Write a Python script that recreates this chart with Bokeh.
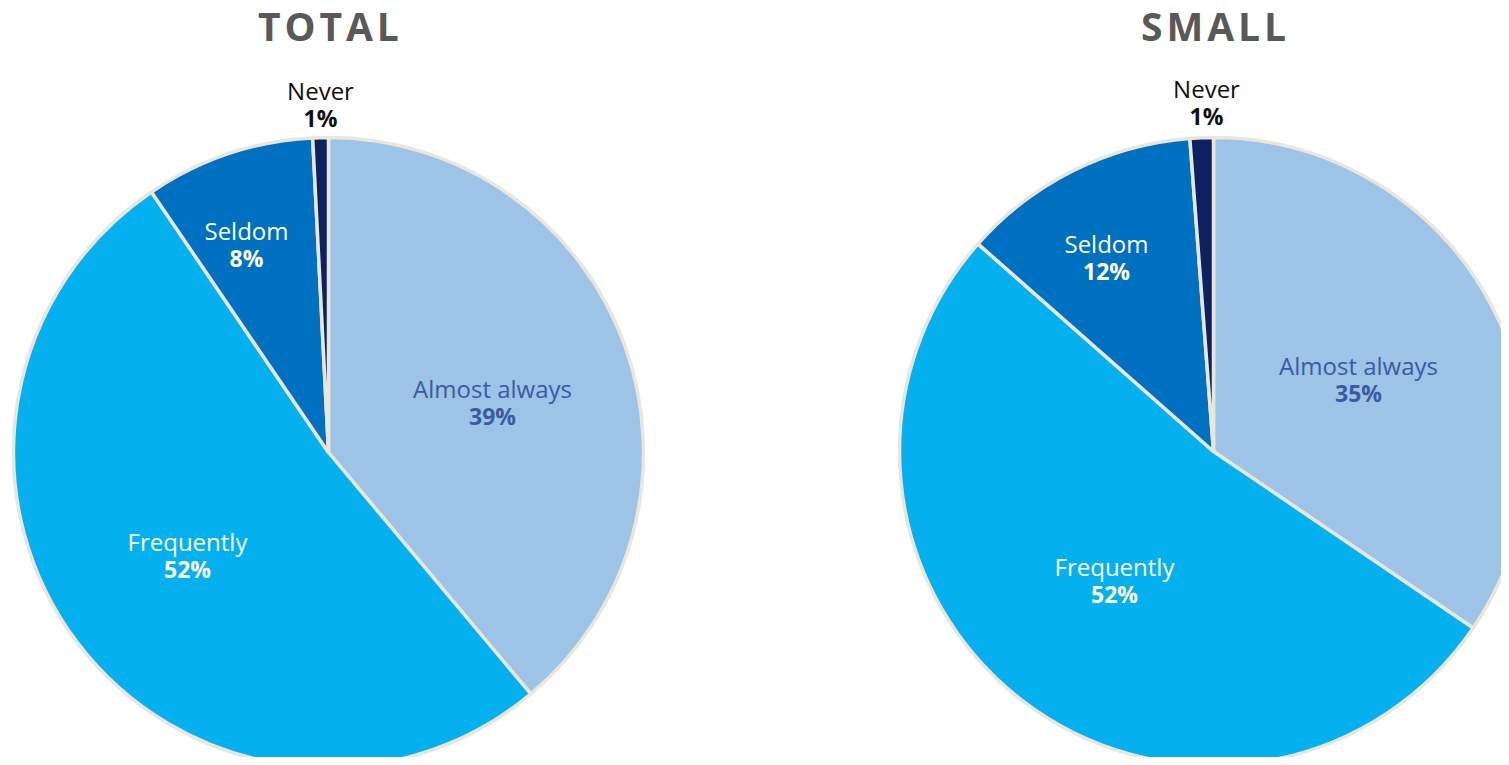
import math
from bokeh.plotting import figure
from bokeh.models import Range1d, ColumnDataSource
from bokeh.core.properties import value
from bokeh.embed import file_html
from bokeh.resources import INLINE

categories = ["Almost always", "Frequently", "Seldom", "Never"]
colors = ["#9DC3E6", "#05B0EF", "#0070C0", "#0D2160"]

total_values = [38.9, 51.6, 8.7, 0.8]
total_labels = ["39%", "52%", "8%", "1%"]
small_values = [34.5, 52.0, 12.3, 1.2]
small_labels = ["35%", "52%", "12%", "1%"]

W, H = 1501, 757
p = figure(width=W, height=H, output_backend="svg", toolbar_location=None,
           x_range=Range1d(0, W), y_range=Range1d(765 - H, 765),
           min_border=0)
p.axis.visible = False
p.grid.visible = False
p.outline_line_color = None
p.background_fill_color = "white"

BORDER = "#EAE6DC"
FONT = "Open Sans"


def iy(y):
    return 765 - y


def draw_pie(cx, cy, r, vals, labs, label_pos, title, title_pos):
    tot = sum(vals)
    starts, ends = [], []
    acc = 0.0
    for v in vals:
        a0 = math.pi / 2 - 2 * math.pi * acc / tot
        acc += v
        a1 = math.pi / 2 - 2 * math.pi * acc / tot
        starts.append(a1)
        ends.append(a0)
    src = ColumnDataSource(dict(x=[cx] * len(vals), y=[iy(cy)] * len(vals),
                                start=starts, end=ends, color=colors))
    p.wedge(x="x", y="y", radius=r, start_angle="start", end_angle="end",
            fill_color="color", line_color=BORDER, line_width=3.5, source=src)
    name_colors = ["#3B5BA0", "white", "white", "#111111"]
    for i, (name, lab) in enumerate(zip(categories, labs)):
        lx, ly = label_pos[i]
        p.text(x=[lx], y=[iy(ly)], text=[name], text_align="center",
               text_baseline="middle", text_font=value(FONT),
               text_font_size="24px", text_color=name_colors[i])
        p.text(x=[lx], y=[iy(ly + 27)], text=[lab], text_align="center",
               text_baseline="middle", text_font=value(FONT),
               text_font_size="23px", text_font_style="bold",
               text_color=name_colors[i])
    p.text(x=[title_pos[0]], y=[iy(title_pos[1])], text=[title],
           text_align="center", text_baseline="middle", text_font=value(FONT),
           text_font_size="39px", text_font_style="bold", text_color="#595959")


HS = "\u200a"
draw_pie(328, 452, 315, total_values, total_labels,
         [(492, 388), (187, 541), (246, 230), (320, 90)],
         HS.join("TOTAL"), (328, 25))
draw_pie(1213, 451, 314, small_values, small_labels,
         [(1358, 365), (1114, 566), (1106, 243), (1206, 88)],
         HS.join("SMALL"), (1213, 25))

open("out.html", "w").write(file_html(p, INLINE))
